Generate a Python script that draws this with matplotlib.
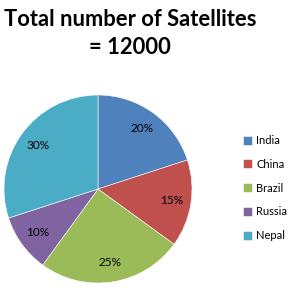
import matplotlib.pyplot as plt

countries = ['India', 'China', 'Brazil', 'Russia', 'Nepal']
shares = [20, 15, 25, 10, 30]
colors = ['#4F81BD', '#C0504D', '#9BBB59', '#8064A2', '#4BACC6']

plt.rcParams['font.family'] = ['Lato', 'DejaVu Sans']

fig = plt.figure(figsize=(2.9, 2.94), dpi=100)
W, H = 290, 294
cx, cy, r = 98, 189, 94
ax = fig.add_axes([(cx - r) / W, (H - cy - r) / H, 2 * r / W, 2 * r / H])

wedges, texts, autotexts = ax.pie(
    shares, colors=colors, startangle=90, counterclock=False,
    autopct='%d%%', pctdistance=0.79,
    wedgeprops=dict(edgecolor='white', linewidth=0.4),
    textprops=dict(fontsize=8.5, color='black'))
ax.set_xlim(-1, 1)
ax.set_ylim(-1, 1)
ax.set_aspect('equal')

fig.text(130 / W, 1 - 20 / H, 'Total number of Satellites', ha='center', va='center',
         fontsize=15.8, fontweight='bold')
fig.text(130 / W, 1 - 47 / H, '= 12000', ha='center', va='center',
         fontsize=15.8, fontweight='bold')

fig.legend(wedges, countries, loc='upper left', bbox_to_anchor=(243 / W, 1 - 135 / H),
           frameon=False, fontsize=8, handlelength=0.85, handleheight=0.85,
           handletextpad=0.35, labelspacing=1.15, borderpad=0, borderaxespad=0)

fig.savefig('out.png', dpi=100)
